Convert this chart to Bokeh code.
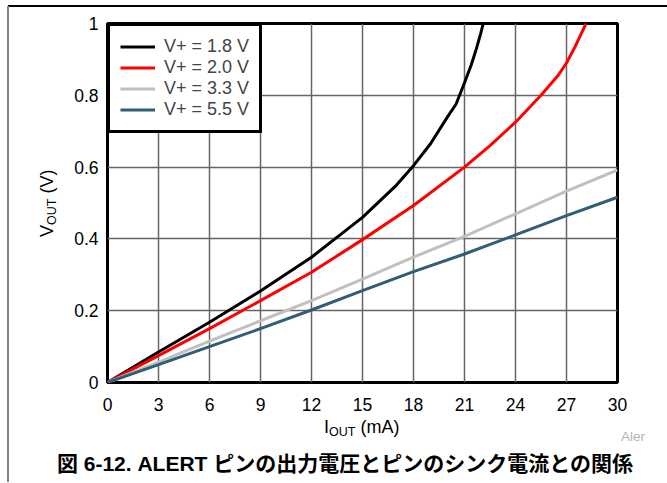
from bokeh.plotting import figure
from bokeh.models import Range1d, FixedTicker, Legend, LegendItem, Div
from bokeh.layouts import row, column
from bokeh.embed import file_html
from bokeh.resources import INLINE

# ---- data ----
iout_18 = [0, 3, 6, 9, 12, 15, 17, 18, 19, 20, 20.5, 21, 21.4, 21.7, 21.95, 22.1]
vout_18 = [0, 0.085, 0.168, 0.255, 0.349, 0.46, 0.55, 0.604, 0.665, 0.74, 0.775, 0.835, 0.885, 0.93, 0.972, 1.0]

iout_20 = [0, 3, 6, 9, 12, 15, 18, 21, 22.5, 24, 25.5, 26.5, 27, 27.5, 28.15]
vout_20 = [0, 0.075, 0.15, 0.228, 0.307, 0.398, 0.493, 0.60, 0.66, 0.725, 0.80, 0.855, 0.89, 0.935, 1.0]

iout_33 = [0, 3, 6, 9, 12, 15, 18, 21, 24, 27, 30]
vout_33 = [0, 0.057, 0.115, 0.172, 0.228, 0.288, 0.349, 0.407, 0.47, 0.533, 0.592]

iout_55 = [0, 3, 6, 9, 12, 15, 18, 21, 24, 27, 30]
vout_55 = [0, 0.05, 0.1, 0.15, 0.202, 0.256, 0.309, 0.358, 0.411, 0.465, 0.516]

series_names = ["V+ = 1.8 V", "V+ = 2.0 V", "V+ = 3.3 V", "V+ = 5.5 V"]
series_colors = ["#000000", "#ff0000", "#c0c0c0", "#2f5e75"]

x_ticks = [0, 3, 6, 9, 12, 15, 18, 21, 24, 27, 30]
y_ticks = [0, 0.2, 0.4, 0.6, 0.8, 1]
y_tick_labels = ["0", "0.2", "0.4", "0.6", "0.8", "1"]

y_title = ("V", "OUT", " (V)")
x_title = ("I", "OUT", " (mA)")
watermark = "Aler"
caption = "図 6-12. ALERT ピンの出力電圧とピンのシンク電流との関係"
FONT = "Liberation Sans"
CSS_FONT = "'Liberation Sans', 'Noto Sans CJK JP', sans-serif"

# ---- main chart ----
p = figure(
    width=597, height=408,
    x_range=Range1d(0, 30), y_range=Range1d(0, 1),
    output_backend="svg", toolbar_location=None,
    min_border_left=37, min_border_right=50,
    min_border_top=13, min_border_bottom=36,
    background_fill_color="white", border_fill_color="white",
)

p.outline_line_color = "black"
p.outline_line_width = 3
p.outline_line_alpha = 1.0

for ax in (p.xaxis[0], p.yaxis[0]):
    ax.axis_line_color = None
    ax.major_tick_line_color = None
    ax.minor_tick_line_color = None
    ax.major_tick_out = 0
    ax.major_tick_in = 0
    ax.minor_tick_out = 0
    ax.major_label_text_font = FONT
    ax.major_label_text_font_size = "17.5px"
    ax.major_label_text_color = "black"
    ax.axis_label = None

p.xaxis[0].ticker = FixedTicker(ticks=x_ticks)
p.yaxis[0].ticker = FixedTicker(ticks=y_ticks)
p.yaxis[0].major_label_overrides = {t: lab for t, lab in zip(y_ticks, y_tick_labels)}
p.xaxis[0].major_label_standoff = 15
p.yaxis[0].major_label_standoff = 9

p.xgrid.ticker = FixedTicker(ticks=x_ticks)
p.ygrid.ticker = FixedTicker(ticks=y_ticks)
for g in (p.xgrid[0], p.ygrid[0]):
    g.grid_line_color = "#666666"
    g.grid_line_width = 1.5

renderers = []
for xs, ys, col in zip([iout_18, iout_20, iout_33, iout_55],
                       [vout_18, vout_20, vout_33, vout_55],
                       series_colors):
    r = p.line(xs, ys, line_color=col, line_width=3, line_join="round")
    renderers.append(r)

legend = Legend(
    items=[LegendItem(label=n, renderers=[r]) for n, r in zip(series_names, renderers)],
    location="top_left", margin=0, padding=10, spacing=0,
    label_text_font=FONT, label_text_font_size="18px",
    label_height=21, glyph_height=21, glyph_width=35, label_standoff=9,
    border_line_color="black", border_line_width=3, border_line_alpha=1.0,
    background_fill_color="white", background_fill_alpha=1.0,
)
p.add_layout(legend, "center")

# ---- texts and frame lines outside the plot (HTML) ----
def title_html(parts):
    main, sub, rest = parts
    return (f'{main}<span style="font-size:12.5px;position:relative;top:2.5px">{sub}</span>{rest}')

GRAY_LINE = "position:absolute;left:7px;width:2px;background:#808080;"

topdiv = Div(
    width=667, height=10, margin=0,
    text=('<div style="position:relative;width:667px;height:10px">'
          '<div style="position:absolute;left:8px;top:3px;width:659px;height:2px;background:#000"></div>'
          f'<div style="{GRAY_LINE}top:4px;height:6px"></div></div>'),
)

ydiv = Div(
    width=70, height=408, margin=0,
    text=(f'<div style="position:relative;width:70px;height:408px">'
          f'<div style="{GRAY_LINE}top:0px;height:408px"></div>'
          f'<div style="position:absolute;left:37.8px;top:227px;transform-origin:0 0;'
          f'transform:rotate(-90deg);white-space:nowrap;font-family:{CSS_FONT};'
          f'font-size:18px;line-height:18px;color:#000">{title_html(y_title)}</div></div>'),
)

bottomdiv = Div(
    width=667, height=64, margin=0,
    text=(f'<div style="position:relative;width:667px;height:64px">'
          f'<div style="{GRAY_LINE}top:0px;height:64px"></div>'
          f'<div style="position:absolute;left:324px;top:0px;white-space:nowrap;'
          f'font-family:{CSS_FONT};font-size:18px;line-height:18px;color:#000">{title_html(x_title)}</div>'
          f'<div style="position:absolute;left:621px;top:11.6px;white-space:nowrap;'
          f'font-family:{CSS_FONT};font-size:13.5px;line-height:13.5px;color:#b4b4b4">{watermark}</div>'
          f'<div style="position:absolute;left:20.5px;top:35px;width:649px;text-align:center;'
          f'white-space:nowrap;font-family:{CSS_FONT};font-size:21px;line-height:21px;'
          f'font-weight:bold;color:#000">{caption}</div></div>'),
)

layout = column(topdiv, row(ydiv, p, spacing=0), bottomdiv, spacing=0)

open("out.html", "w").write(file_html(layout, INLINE))
